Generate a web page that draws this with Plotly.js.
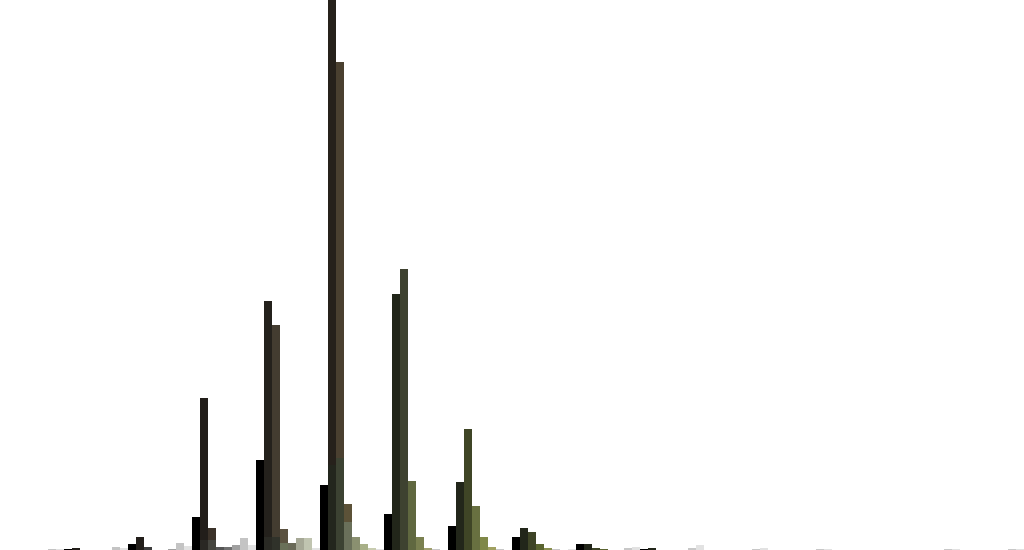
<!DOCTYPE html>
<html>
<head>
<meta charset="utf-8">
<script src="https://cdn.plot.ly/plotly-3.0.1.min.js"></script>
<style>html,body{margin:0;padding:0;background:#fff;}#chart{width:1024px;height:550px;}</style>
</head>
<body>
<div id="chart"></div>
<script>
// Categories (16 groups)
var groups = [0,1,2,3,4,5,6,7,8,9,10,11,12,13,14,15];

// Back-layer series values (8 series per group)
var s0 = [0,1,6,33,90,65,36,24,13,6,1,0,0,0,0,0];
var s1 = [0,2,13,152,249,550,256,68,22,6,2,0,0,0,0,0];
var s2 = [0,0,3,22,225,488,281,121,18,2,0,0,0,0,0,0];
var s3 = [0,0,0,3,21,46,69,44,6,1,0,0,0,0,0,0];
var s4 = [0,0,0,3,7,13,13,13,2,0,0,0,0,0,0,0];
var s5 = [0,0,1,5,12,6,2,3,1,0,0,0,0,0,0,0];
var s6 = [1,3,7,12,12,2,1,1,0,2,2,1,1,0,1,1];
var s7 = [1,2,4,5,2,1,0,0,1,3,5,2,1,0,1,1];

// Front-layer (overlapping) values
var f1 = [0,0,0,10,13,85,0,0,0,0,0,0,0,0,0,0];
var f2 = [0,0,0,10,13,92,0,0,0,0,0,0,0,0,0,0];
var f3 = [0,0,0,0,7,28,0,0,0,0,0,0,0,0,0,0];

function rep(c, n){ var a=[]; for(var i=0;i<n;i++) a.push(c); return a; }

var backColors = [
  rep('#000000',16),
  ['#221e1a','#221e1a','#221e1a','#221e1a','#24211c','#26211b'].concat(rep('#22261a',10)),
  ['#3a3a3a','#3a3a3a','#3c3c3c','#3b3229','#433c30','#4a4030','#3e4230','#3f4526'].concat(rep('#3e4426',8)),
  ['#555555','#555555','#555555','#555555','#5b5240','#5c5238','#606840','#687040'].concat(rep('#5a6430',8)),
  ['#707070','#707070','#707070','#707070','#6a6a58','#8a9070','#7a8050','#808848'].concat(rep('#8a9050',8)),
  ['#a0a0a0','#a0a0a0','#a0a0a0','#a0a0a0','#a6a896','#a8b088','#a0a070','#a0a060'].concat(rep('#c8c8c8',8)),
  ['#c4c4c4','#c4c4c4','#c4c4c4','#c4c4c4','#c0c4b0','#c8ccb0'].concat(rep('#c8c8c8',10)),
  rep('#e2e2e2',16)
];
var frontColors = {
  1: rep('#2a2824',3).concat(['#2a2824','#2a2a24','#23261d']).concat(rep('#23261d',10)),
  2: rep('#45453f',3).concat(['#45453f','#30322a','#3c4232']).concat(rep('#3c4232',10)),
  3: rep('#6a7058',3).concat(['#6a7058','#6a7058','#6a705a']).concat(rep('#6a705a',10))
};

var back = [s0,s1,s2,s3,s4,s5,s6,s7];
var front = {1:f1, 2:f2, 3:f3};

var traces = [];
back.forEach(function(vals, i){
  traces.push({
    type:'bar', x:groups, y:vals, offsetgroup:String(i),
    marker:{color:backColors[i], line:{width:0}}, hoverinfo:'none'
  });
});
[1,2,3].forEach(function(i){
  traces.push({
    type:'bar', x:groups, y:front[i], offsetgroup:String(i),
    marker:{color:frontColors[i], line:{width:0}}, hoverinfo:'none'
  });
});

var layout = {
  width:1024, height:550,
  margin:{l:0,r:0,t:0,b:0,pad:0},
  barmode:'group', bargap:0, bargroupgap:0,
  showlegend:false,
  paper_bgcolor:'#ffffff', plot_bgcolor:'#ffffff',
  xaxis:{visible:false, range:[-0.5,15.5], fixedrange:true},
  yaxis:{visible:false, range:[0,550], fixedrange:true}
};

Plotly.newPlot('chart', traces, layout, {staticPlot:true, displayModeBar:false});
</script>
</body>
</html>
